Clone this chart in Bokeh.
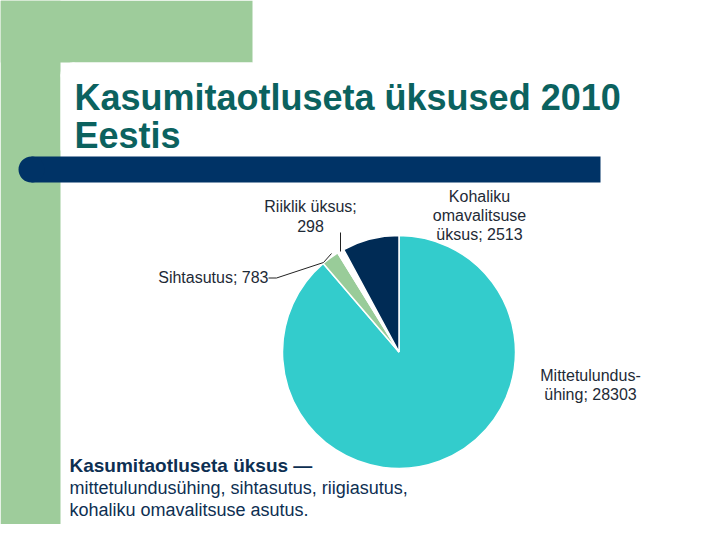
import numpy as np
from bokeh.plotting import figure
from bokeh.models import Range1d, ColumnDataSource
from bokeh.core.properties import value
from bokeh.embed import file_html
from bokeh.resources import INLINE

# ---- data ----
categories = ["Mittetulundusühing", "Sihtasutus", "Riiklik üksus", "Kohaliku omavalitsuse üksus"]
counts = [28303, 783, 298, 2513]
slice_colors = ["#33CCCC", "#99CC99", "#FFFFFF", "#002B55"]
label_texts = [["Mittetulundus-", "ühing; 28303"],
               ["Sihtasutus; 783"],
               ["Riiklik üksus;", "298"],
               ["Kohaliku", "omavalitsuse", "üksus; 2513"]]
title_lines = ["Kasumitaotluseta üksused 2010", "Eestis"]
note_bold = "Kasumitaotluseta üksus —"
note_lines = ["mittetulundusühing, sihtasutus, riigiasutus,", "kohaliku omavalitsuse asutus."]

W, H = 704, 524
def X(xr):
    return xr
def Y(yr):
    return H - yr

p = figure(width=W, height=H, x_range=Range1d(0, W), y_range=Range1d(0, H),
           output_backend="svg", toolbar_location=None, min_border=0)
p.axis.visible = False
p.grid.visible = False
p.outline_line_color = None
p.background_fill_color = "white"
p.border_fill_color = "white"

GREEN = "#9ECC9B"
NAVY = "#003366"

# green L-shaped background
p.quad(left=X(0), right=X(252), top=Y(0), bottom=Y(62), fill_color=GREEN, line_color=None)
p.quad(left=X(0), right=X(60), top=Y(0), bottom=Y(560), fill_color=GREEN, line_color=None)
# white panel rounded corner
r = 12
p.quad(left=X(60 + r), right=X(252), top=Y(62), bottom=Y(62 + r + 1), fill_color="white", line_color=None)
p.quad(left=X(60), right=X(252), top=Y(62 + r), bottom=Y(150), fill_color="white", line_color=None)
p.circle(x=X(60 + r), y=Y(62 + r), radius=r, fill_color="white", line_color=None)

# dark bar with rounded left end
br = 13
p.quad(left=X(18 + br), right=X(600), top=Y(156), bottom=Y(182), fill_color=NAVY, line_color=None)
p.circle(x=X(18 + br), y=Y(169), radius=br, fill_color=NAVY, line_color=None)

# title
TITLE_COL = "#0B625F"
p.text(x=[X(74)], y=[Y(97)], text=[title_lines[0]], text_font=value("Liberation Sans"),
       text_font_style="bold", text_font_size="36px", text_color=TITLE_COL, text_baseline="alphabetic")
p.text(x=[X(74)], y=[Y(135)], text=[title_lines[1]], text_font=value("Liberation Sans"),
       text_font_style="bold", text_font_size="36px", text_color=TITLE_COL, text_baseline="alphabetic")

# pie
vals = np.array(counts, dtype=float)
ang = vals / vals.sum() * 2 * np.pi
cum_end = np.cumsum(ang)
cum_start = cum_end - ang
src = ColumnDataSource(dict(cat=categories, start=np.pi / 2 - cum_start, end=np.pi / 2 - cum_end,
                            color=slice_colors))
p.wedge(x=X(398.5), y=Y(351.5), radius=116.5, start_angle="start", end_angle="end",
        direction="clock", fill_color="color", line_color="white", line_width=1.5, source=src)

# labels
LBL = "#1E2A36"
FS = "16px"
def lines(xr, baselines, texts, align):
    p.text(x=[X(xr)] * len(texts), y=[Y(b) for b in baselines], text=texts,
           text_font=value("Liberation Sans"), text_font_size=FS, text_color=LBL,
           text_align=align, text_baseline="alphabetic")

lines(590, [375, 394], label_texts[0], "center")
lines(268, [277], label_texts[1], "right")
lines(310, [206, 225], label_texts[2], "center")
lines(479, [196, 215, 234], label_texts[3], "center")

# leader lines
p.line(x=[X(340), X(340)], y=[Y(232), Y(251)], line_color="#222222", line_width=1)
p.line(x=[X(268), X(276), X(323), X(331)], y=[Y(277.5), Y(277.5), Y(262), Y(253)],
       line_color="#222222", line_width=1)

# note
NOTE_COL = "#0D2F52"
p.text(x=[X(69)], y=[Y(465)], text=[note_bold], text_font=value("Liberation Sans"),
       text_font_style="bold", text_font_size="19px", text_color=NOTE_COL, text_baseline="alphabetic")
p.text(x=[X(69)] * 2, y=[Y(487), Y(509)], text=note_lines, text_font=value("Liberation Sans"),
       text_font_size="18px", text_color=NOTE_COL, text_baseline="alphabetic")

open("out.html", "w").write(file_html(p, INLINE))
